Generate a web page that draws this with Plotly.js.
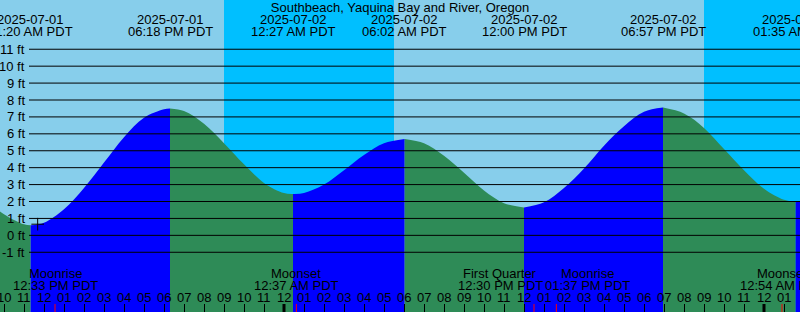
<!DOCTYPE html>
<html>
<head>
<meta charset="utf-8">
<script src="https://cdn.plot.ly/plotly-3.0.1.min.js"></script>
<style>html,body{margin:0;padding:0;background:#87CEEB;}#chart{width:800px;height:312px;}</style>
</head>
<body>
<div id="chart"></div>
<script>
// ---- data ----
const chartTitle = 'Southbeach, Yaquina Bay and River, Oregon';
const tideTimes = ['2025-07-01 11:20', '2025-07-01 18:18', '2025-07-02 00:27', '2025-07-02 06:02',
                   '2025-07-02 12:00', '2025-07-02 18:57', '2025-07-03 01:35'];
const tideFt    = [0.6, 7.5, 2.45, 5.7, 1.65, 7.55, 2.0];
const tideKind  = ['Low', 'High', 'Low', 'High', 'Low', 'High', 'Low'];
const tideDateLabels = ['2025-07-01', '2025-07-01', '2025-07-02', '2025-07-02', '2025-07-02', '2025-07-02', '2025-07-03'];
const tideTimeLabels = ['11:20 AM PDT', '06:18 PM PDT', '12:27 AM PDT', '06:02 AM PDT', '12:00 PM PDT', '06:57 PM PDT', '01:35 AM PDT'];

// hourly heights (ft), starting 2025-07-01 09:00
const hourlyStart = '2025-07-01 09:00';
const hourlyFt = [2.2, 1.25, 0.65, 0.75, 1.55, 2.8, 4.3, 5.8, 6.95, 7.45,
                  7.35, 6.6, 5.45, 4.2, 3.1, 2.5, 2.5, 3.0, 3.85, 4.75,
                  5.45, 5.7, 5.45, 4.7, 3.7, 2.65, 1.9, 1.65, 1.95, 2.8,
                  3.95, 5.3, 6.45, 7.3, 7.55, 7.2, 6.35, 5.1, 3.85, 2.75,
                  2.1, 2.05];

const sunsetTimes  = ['2025-07-01 21:00', '2025-07-02 21:00'];
const sunriseTimes = ['2025-07-02 05:30', '2025-07-03 05:30'];

const moonTimes  = ['2025-07-01 12:33', '2025-07-02 00:37', '2025-07-02 12:30', '2025-07-02 13:37', '2025-07-03 00:54'];
const moonNames  = ['Moonrise', 'Moonset', 'First Quarter', 'Moonrise', 'Moonset'];
const moonLabels = ['12:33 PM PDT', '12:37 AM PDT', '12:30 PM PDT', '01:37 PM PDT', '12:54 AM PDT'];

const midnightTimes = ['2025-07-02 00:00', '2025-07-03 00:00'];
const markerTime = '2025-07-01 11:41';
const markerFt = 0.66;

const ftTicks = [-1, 0, 1, 2, 3, 4, 5, 6, 7, 8, 9, 10, 11];

// ---- styling ----
const W = 800, H = 312;
const xRange = ['2025-07-01 09:48', '2025-07-03 01:48'];
const yRange = [-4.53, 13.91];
const DAY = '#87CEEB', NIGHT = '#00BFFF', RISE = '#0000FF', FALL = '#2E8B57';
const FONT = {family: 'Liberation Sans, Arial, sans-serif', size: 13, color: '#000'};
const moonLabelShift = [0, 0, -34, 31, 0];   // de-overlap nudges (px), as in the reference
const py = px => 1 - px / H;

// ---- helpers ----
const toMin = s => Date.parse(s.replace(' ', 'T') + ':00Z') / 60000;
const fromMin = m => new Date(m * 60000).toISOString().slice(0, 16).replace('T', ' ');

// merge samples
const extremes = tideTimes.map((t, i) => ({m: toMin(t), y: tideFt[i], ext: i}));
const pts = [];
const h0 = toMin(hourlyStart);
hourlyFt.forEach((v, i) => {
  const m = h0 + i * 60;
  if (extremes.every(e => Math.abs(e.m - m) > 10)) pts.push({m: m, y: v, ext: -1});
});
extremes.forEach(e => pts.push(e));
pts.sort((a, b) => a.m - b.m);

// split into segments at extremes
const segs = [];
let cur = [];
pts.forEach(p => {
  cur.push(p);
  if (p.ext >= 0) { segs.push(cur); cur = [p]; }
});
if (cur.length > 1) segs.push(cur);

const traces = [];
segs.forEach(seg => {
  const first = seg[0], last = seg[seg.length - 1];
  let rising;
  if (last.ext >= 0) rising = tideKind[last.ext] === 'High';
  else rising = tideKind[first.ext] === 'Low';
  const col = rising ? RISE : FALL;
  const xs = seg.map(p => fromMin(p.m));
  traces.push({x: xs, y: xs.map(() => yRange[0]), mode: 'lines', line: {width: 0},
               hoverinfo: 'skip', showlegend: false});
  traces.push({x: xs, y: seg.map(p => p.y), mode: 'lines',
               line: {width: 0, shape: 'spline', color: col},
               fill: 'tonexty', fillcolor: col, hoverinfo: 'skip', showlegend: false});
});
traces.push({x: [markerTime], y: [markerFt], mode: 'markers',
             marker: {symbol: 'cross-thin', size: 9, line: {color: '#000', width: 1}},
             hoverinfo: 'skip', showlegend: false});

// shapes
const shapes = [];
sunsetTimes.forEach((s, i) => shapes.push({type: 'rect', xref: 'x', yref: 'paper', x0: s, x1: sunriseTimes[i],
  y0: 0, y1: 1, fillcolor: NIGHT, line: {width: 0}, layer: 'below'}));
ftTicks.forEach(v => shapes.push({type: 'line', xref: 'paper', yref: 'y', x0: 29 / W, x1: 1, y0: v, y1: v,
  line: {color: '#000', width: 1}, layer: 'above'}));
midnightTimes.forEach(t => shapes.push({type: 'line', xref: 'x', yref: 'paper', x0: t, x1: t, y0: 0, y1: 8 / H,
  line: {color: '#000', width: 3}, layer: 'above'}));
moonTimes.forEach(t => shapes.push({type: 'line', xref: 'x', yref: 'paper', x0: t, x1: t, y0: 0, y1: 8 / H,
  line: {color: '#FF0000', width: 1}, layer: 'above'}));

// annotations
const ann = [];
tideTimes.forEach((t, i) => {
  ann.push({x: t, xref: 'x', yref: 'paper', y: py(19.7), text: tideDateLabels[i], showarrow: false,
            xanchor: 'center', yanchor: 'middle', font: FONT});
  ann.push({x: t, xref: 'x', yref: 'paper', y: py(31.3), text: tideTimeLabels[i], showarrow: false,
            xanchor: 'center', yanchor: 'middle', font: FONT});
});
moonTimes.forEach((t, i) => {
  ann.push({x: t, xref: 'x', yref: 'paper', y: py(273), text: moonNames[i], showarrow: false,
            xanchor: 'center', yanchor: 'middle', font: FONT, xshift: moonLabelShift[i]});
  ann.push({x: t, xref: 'x', yref: 'paper', y: py(285.5), text: moonLabels[i], showarrow: false,
            xanchor: 'center', yanchor: 'middle', font: FONT, xshift: moonLabelShift[i]});
});
ftTicks.forEach(v => ann.push({x: 27 / W, xref: 'paper', yref: 'y', y: v, text: v + ' ft', showarrow: false,
  xanchor: 'right', yanchor: 'middle', font: FONT}));

// hour tick labels (12-hour clock) at every hour of the axis range
const hStart = Math.ceil(toMin(xRange[0]) / 60) * 60, hEnd = toMin(xRange[1]);
for (let m = hStart; m <= hEnd; m += 60) {
  const hr = Math.floor(m / 60) % 24;
  const h12 = hr % 12 === 0 ? 12 : hr % 12;
  ann.push({x: fromMin(m), xref: 'x', yref: 'paper', y: py(297.5), text: String(h12).padStart(2, '0'),
            showarrow: false, xanchor: 'center', yanchor: 'middle', font: FONT});
}

const layout = {
  width: W, height: H,
  margin: {l: 0, r: 0, t: 0, b: 0, pad: 0},
  paper_bgcolor: DAY, plot_bgcolor: DAY,
  title: {text: chartTitle, font: FONT, x: 0.5, xanchor: 'center', y: py(7.5), yanchor: 'middle'},
  xaxis: {type: 'date', range: xRange, showgrid: false, zeroline: false, showline: false,
          ticks: 'inside', ticklen: 8, tickwidth: 1, tickcolor: '#000',
          dtick: 3600000, tick0: '2025-07-01 00:00', showticklabels: false, fixedrange: true},
  yaxis: {range: yRange, showgrid: false, zeroline: false, showline: false, showticklabels: false,
          ticks: '', fixedrange: true},
  shapes: shapes, annotations: ann, showlegend: false
};

Plotly.newPlot('chart', traces, layout, {staticPlot: true, displayModeBar: false});
</script>
</body>
</html>
